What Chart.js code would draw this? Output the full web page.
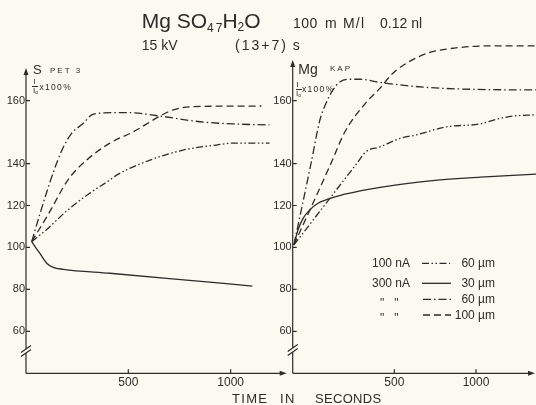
<!DOCTYPE html>
<html><head><meta charset="utf-8">
<script src="https://cdn.jsdelivr.net/npm/chart.js"></script>
<style>
html,body{margin:0;padding:0;background:#fcf9f0;}
#fig{position:relative;width:536px;height:405px;overflow:hidden;font-family:"Liberation Sans",Arial,sans-serif;color:#2e2b28;}
.t{position:absolute;line-height:1;white-space:nowrap;}
.sub{font-size:12px;position:relative;}
canvas{position:absolute;top:0;}
</style></head><body>
<div id="fig">
<canvas id="cl" width="290" height="405" style="left:0;width:290px;height:405px"></canvas>
<canvas id="cr" width="266" height="405" style="left:270px;width:266px;height:405px"></canvas>

<div class="t" style="left:141.7px;top:10.2px;font-size:21px">Mg SO<span class="sub" style="top:4px">4</span><span class="sub" style="top:4px;margin-left:2px">7</span>H<span class="sub" style="top:3px">2</span>O</div>
<div class="t" style="left:293px;top:16.1px;font-size:14px;letter-spacing:0.5px">100</div>
<div class="t" style="left:325px;top:16.1px;font-size:14px;letter-spacing:1.2px">m M/l</div>
<div class="t" style="left:380px;top:16.1px;font-size:14px">0.12 nl</div>
<div class="t" style="left:141.7px;top:38.2px;font-size:14px">15 kV</div>
<div class="t" style="left:235px;top:38.2px;font-size:14px;letter-spacing:2px">(13+7)</div>
<div class="t" style="left:292.7px;top:38.2px;font-size:14px">s</div>

<div class="t" style="left:33px;top:63.3px;font-size:13px">S</div>
<div class="t" style="left:50px;top:66.5px;font-size:8px;letter-spacing:2px">PET 3</div>
<div class="t" style="left:33.5px;top:78.2px;font-size:8px">I</div>
<div style="position:absolute;left:32px;top:85.5px;width:6px;height:0;border-top:1px solid #2e2b28"></div>
<div class="t" style="left:33px;top:87.2px;font-size:8px">I<span style="font-size:5px;position:relative;top:1px">o</span></div>
<div class="t" style="left:39.5px;top:83.3px;font-size:8.5px;letter-spacing:1.3px">x100%</div>

<div class="t" style="left:298.3px;top:61.6px;font-size:14px">Mg</div>
<div class="t" style="left:330px;top:64.9px;font-size:8px;letter-spacing:2px">KAP</div>
<div class="t" style="left:296.5px;top:81.2px;font-size:8px">I</div>
<div style="position:absolute;left:295.5px;top:88.5px;width:6px;height:0;border-top:1px solid #2e2b28"></div>
<div class="t" style="left:296px;top:90.2px;font-size:8px">I<span style="font-size:5px;position:relative;top:1px">o</span></div>
<div class="t" style="left:302px;top:85px;font-size:8.5px;letter-spacing:1.3px">x100%</div>

<div class="t" style="left:372px;top:257.4px;font-size:12px">100 nA</div>
<div class="t" style="left:372px;top:277.4px;font-size:12px">300 nA</div>
<div class="t" style="left:380px;top:296.7px;font-size:12px;letter-spacing:0px">"&nbsp;&nbsp;&nbsp;"</div>
<div class="t" style="left:380px;top:312.4px;font-size:12px;letter-spacing:0px">"&nbsp;&nbsp;&nbsp;"</div>
<div class="t" style="right:41px;top:257.4px;font-size:12px;text-align:right">60 µm</div>
<div class="t" style="right:41px;top:277.4px;font-size:12px;text-align:right">30 µm</div>
<div class="t" style="right:41px;top:293.4px;font-size:12px;text-align:right">60 µm</div>
<div class="t" style="right:41px;top:309.1px;font-size:12px;text-align:right">100 µm</div>

<div class="t" style="left:232px;top:392px;font-size:13px;letter-spacing:1.3px">TIME</div>
<div class="t" style="left:280px;top:392px;font-size:13px;letter-spacing:1.3px">IN</div>
<div class="t" style="left:315px;top:392px;font-size:13px;letter-spacing:0.3px">SECONDS</div>
</div>
<script>
// ---------- data ----------
const TIME_TICKS = [500, 1000];
const VALUE_TICKS = [60, 80, 100, 120, 140, 160];
const SERIES = ['100nA 60µm', '300nA 30µm', '300nA 60µm', '300nA 100µm'];

// Left panel: S (PET 3), I/I0 x 100 %
const S_T_100nA_60 = [28, 100, 200, 313, 410, 443, 606, 768, 931, 1013, 1190];
const S_V_100nA_60 = [102.8, 108.5, 117.5, 126, 132.2, 134.5, 141.1, 144.3, 145.9, 146.5, 146.5];
const S_T_300nA_30 = [28, 45, 68, 101, 133, 182, 410, 687, 1106];
const S_V_300nA_30 = [102.8, 100.3, 97.2, 92.5, 90.5, 89.6, 87.7, 85.3, 81.6];
const S_T_300nA_60 = [28, 68, 100, 134, 180, 223, 280, 321, 361, 443, 500, 655, 850, 1013, 1190];
const S_V_300nA_60 = [102.8, 116, 126, 136, 144.9, 149.6, 152.8, 155.5, 156, 156.2, 156.2, 155.1, 153.3, 152.6, 152.3];
const S_T_300nA_100 = [28, 110, 207, 296, 410, 524, 655, 720, 817, 1150];
const S_V_300nA_100 = [102.8, 116, 132.5, 141.1, 146.5, 150.1, 155.1, 157.1, 158.1, 158.3];

// Right panel: Mg (KAP), I/I0 x 100 %
const MG_T_100nA_60 = [6, 158, 315, 361, 430, 535, 633, 820, 1024, 1126, 1228, 1367];
const MG_V_100nA_60 = [101.2, 120.3, 140, 143.8, 145.3, 148, 149.1, 151.7, 152.6, 154.1, 155.1, 155.5];
const MG_T_300nA_30 = [6, 26, 51, 84, 124.5, 174, 239, 338, 430, 719, 1026, 1367];
const MG_V_300nA_30 = [101.2, 108.3, 113.9, 117.9, 121.1, 123, 125, 127.1, 128.7, 131.8, 133.5, 135];
const MG_T_300nA_60 = [6, 90, 134, 164, 198, 233, 282, 331, 430, 677, 983, 1367];
const MG_V_300nA_60 = [101.2, 140, 153.9, 159.2, 163.4, 166, 166.8, 166.8, 165.8, 164.3, 163.6, 163.4];
const MG_T_300nA_100 = [6, 188, 257, 361, 430, 489, 559, 702, 866, 1070, 1367];
const MG_V_300nA_100 = [101.2, 140, 150.1, 159.4, 164, 168.5, 171.4, 175.1, 176.7, 177.4, 177.4];

// ---------- styles ----------
const INK = '#2e2b28';
const FONT = '"Liberation Sans", Arial, sans-serif';
const DASH = {
  '100nA 60µm': [7, 2.5, 1.5, 2.5, 1.5, 2.5],
  '300nA 30µm': [],
  '300nA 60µm': [8, 3, 1.5, 3],
  '300nA 100µm': [7, 4]
};
Chart.defaults.font.family = FONT;
Chart.defaults.color = INK;

// The hand-drawn axes of the original are piecewise linear (e.g. 140->160 is drawn wider).
function makePiecewise(sid, breaks) {
  const interp = (v, a, b) => {
    let i = 0;
    while (i < breaks.length - 2 && v > breaks[i + 1][a]) i++;
    const p = breaks[i], q = breaks[i + 1];
    return p[b] + (v - p[a]) * (q[b] - p[b]) / (q[a] - p[a]);
  };
  class PW extends Chart.LinearScale {
    getPixelForValue(v) {
      if (v === null || v === undefined || isNaN(v)) return NaN;
      const lo = interp(this.min, 0, 1), hi = interp(this.max, 0, 1);
      return this.getPixelForDecimal((interp(v, 0, 1) - lo) / (hi - lo));
    }
    getValueForPixel(p) {
      const lo = interp(this.min, 0, 1), hi = interp(this.max, 0, 1);
      return interp(lo + this.getDecimalForPixel(p) * (hi - lo), 1, 0);
    }
  }
  PW.id = sid;
  PW.defaults = Chart.LinearScale.defaults;
  return PW;
}
Chart.register(makePiecewise('pwY', [[0, 0], [140, 140], [160, 170]]));
Chart.register(makePiecewise('pwXR', [[0, 0], [500, 500], [1000, 902]]));

const axisDeco = {
  id: 'axisDeco',
  afterDraw(chart, args, o) {
    const ctx = chart.ctx, xs = chart.scales.x, ys = chart.scales.y;
    const x0 = xs.left, y0 = ys.bottom, by = o.breakY;
    ctx.save();
    ctx.strokeStyle = INK; ctx.fillStyle = INK; ctx.lineWidth = 1.2; ctx.setLineDash([]);
    ctx.beginPath();
    ctx.moveTo(x0, y0); ctx.lineTo(x0, by + 2);
    ctx.moveTo(x0, by - 2); ctx.lineTo(x0, o.arrowTop + 5);
    ctx.moveTo(x0 - 5, by + 5.5); ctx.lineTo(x0 + 5, by - 1.5);
    ctx.moveTo(x0 - 5, by + 1.5); ctx.lineTo(x0 + 5, by - 5.5);
    ctx.moveTo(x0, y0); ctx.lineTo(o.xEnd - 5, y0);
    ys.ticks.forEach((t, i) => { const p = ys.getPixelForTick(i); ctx.moveTo(x0, p); ctx.lineTo(x0 + 4, p); });
    xs.ticks.forEach((t, i) => { const p = xs.getPixelForTick(i); ctx.moveTo(p, y0); ctx.lineTo(p, y0 - 4); });
    ctx.stroke();
    ctx.beginPath();
    ctx.moveTo(x0, o.arrowTop); ctx.lineTo(x0 - 2.5, o.arrowTop + 7); ctx.lineTo(x0 + 2.5, o.arrowTop + 7); ctx.closePath();
    ctx.moveTo(o.xEnd, y0); ctx.lineTo(o.xEnd - 7, y0 - 2.5); ctx.lineTo(o.xEnd - 7, y0 + 2.5); ctx.closePath();
    ctx.fill();
    if (o.legend) {
      ctx.lineWidth = 1.3;
      o.legend.forEach(r => {
        ctx.setLineDash(DASH[r.key]);
        ctx.beginPath(); ctx.moveTo(r.x0, r.y); ctx.lineTo(r.x1, r.y); ctx.stroke();
      });
    }
    ctx.restore();
  }
};

function ds(label, t, v) {
  return {
    label, data: t.map((x, i) => ({ x, y: v[i] })),
    borderColor: INK, borderWidth: 1.3, borderDash: DASH[label],
    pointRadius: 0, cubicInterpolationMode: 'monotone', fill: false, clip: false
  };
}

function makeChart(id, xType, xMax, yWidth, datasets, deco) {
  return new Chart(document.getElementById(id), {
    type: 'line',
    data: { datasets },
    options: {
      responsive: false, animation: false, devicePixelRatio: 1,
      layout: { padding: 0 },
      plugins: { legend: { display: false }, tooltip: { enabled: false }, axisDeco: deco },
      scales: {
        x: {
          type: xType, min: 0, max: xMax,
          grid: { display: false, drawTicks: false }, border: { display: false },
          afterBuildTicks: s => { s.ticks = TIME_TICKS.map(v => ({ value: v })); },
          afterFit: s => { s.height = 31.7; s.paddingLeft = 0; s.paddingRight = 0; s.paddingTop = 0; s.paddingBottom = 0; },
          ticks: { padding: 2, color: INK, font: { size: 12 }, maxRotation: 0, autoSkip: false, callback: v => String(v) }
        },
        y: {
          type: 'pwY', min: 40, max: 192,
          grid: { display: false, drawTicks: false }, border: { display: false },
          afterBuildTicks: s => { s.ticks = VALUE_TICKS.map(v => ({ value: v })); },
          afterFit: s => { s.width = yWidth; s.paddingLeft = 0; s.paddingRight = 0; s.paddingTop = 0; s.paddingBottom = 0; },
          ticks: { padding: 1, color: INK, font: { size: 11 }, autoSkip: false, callback: v => String(v) }
        }
      }
    },
    plugins: [axisDeco]
  });
}

makeChart('cl', 'linear', 1290, 26, [
  ds(SERIES[0], S_T_100nA_60, S_V_100nA_60),
  ds(SERIES[1], S_T_300nA_30, S_V_300nA_30),
  ds(SERIES[2], S_T_300nA_60, S_V_300nA_60),
  ds(SERIES[3], S_T_300nA_100, S_V_300nA_100)
], { arrowTop: 68, breakY: 351, xEnd: 286.7 });

makeChart('cr', 'pwXR', 1367, 22.7, [
  ds(SERIES[0], MG_T_100nA_60, MG_V_100nA_60),
  ds(SERIES[1], MG_T_300nA_30, MG_V_300nA_30),
  ds(SERIES[2], MG_T_300nA_60, MG_V_300nA_60),
  ds(SERIES[3], MG_T_300nA_100, MG_V_300nA_100)
], { arrowTop: 60, breakY: 350, xEnd: 265,
     legend: [
       { key: SERIES[0], x0: 152, x1: 180, y: 263.3 },
       { key: SERIES[1], x0: 152, x1: 181, y: 283.3 },
       { key: SERIES[2], x0: 153, x1: 181, y: 299.3 },
       { key: SERIES[3], x0: 153, x1: 181, y: 315 }
     ] });
</script>
</body></html>
